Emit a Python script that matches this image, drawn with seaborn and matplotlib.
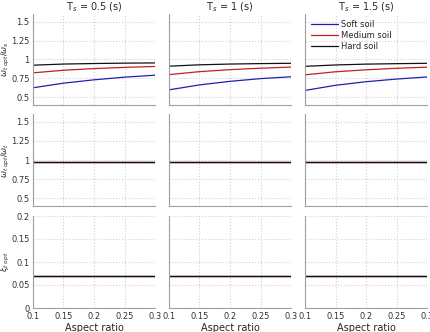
import numpy as np
import pandas as pd
import matplotlib
matplotlib.use("Agg")
import matplotlib.pyplot as plt
import seaborn as sns

# ---- data ----
aspect = [0.10, 0.15, 0.20, 0.25, 0.30]
periods = ["0.5", "1", "1.5"]
soils = ["Soft soil", "Medium soil", "Hard soil"]

# row 1: omega_t_opt / omega_s
r1_soft = {"0.5": [0.627, 0.688, 0.732, 0.767, 0.793],
           "1":   [0.600, 0.665, 0.712, 0.748, 0.772],
           "1.5": [0.592, 0.660, 0.707, 0.742, 0.770]}
r1_med = {"0.5": [0.824, 0.858, 0.880, 0.896, 0.908],
          "1":   [0.800, 0.840, 0.866, 0.885, 0.900],
          "1.5": [0.798, 0.838, 0.864, 0.884, 0.899]}
r1_hard = {"0.5": [0.925, 0.940, 0.947, 0.952, 0.955],
           "1":   [0.912, 0.930, 0.940, 0.946, 0.950],
           "1.5": [0.910, 0.928, 0.939, 0.945, 0.950]}
# row 2: omega_t_opt / omega_t
r2_soft = [0.980, 0.980, 0.980, 0.980, 0.980]
r2_med = [0.979, 0.979, 0.979, 0.979, 0.979]
r2_hard = [0.978, 0.978, 0.978, 0.978, 0.978]
# row 3: xi_t_opt
r3_soft = [0.0705, 0.0705, 0.0705, 0.0705, 0.0705]
r3_med = [0.0700, 0.0700, 0.0700, 0.0700, 0.0700]
r3_hard = [0.0700, 0.0700, 0.0700, 0.0700, 0.0700]

rows = []
for p in periods:
    for soil, r1, r2, r3 in [("Soft soil", r1_soft[p], r2_soft, r3_soft),
                             ("Medium soil", r1_med[p], r2_med, r3_med),
                             ("Hard soil", r1_hard[p], r2_hard, r3_hard)]:
        for i, a in enumerate(aspect):
            rows.append(dict(Ts=p, soil=soil, aspect=a, r1=r1[i], r2=r2[i], r3=r3[i]))
df = pd.DataFrame(rows)

sns.set_theme(style="white")
plt.rcParams['font.family'] = ['DejaVu Sans']
plt.rcParams['mathtext.fontset'] = 'dejavusans'
palette = {"Soft soil": "#2020b0", "Medium soil": "#c02020", "Hard soil": "#101010"}

W, H = 431, 332
fig = plt.figure(figsize=(W / 100, H / 100), dpi=100)
lefts = [33, 169, 305]
width = 122
row_tb = [(14, 105), (114, 206), (216, 308)]
ycols = ["r1", "r2", "r3"]
ylabels = [r"$\omega_{t\ opt}/\omega_s$", r"$\omega_{t\ opt}/\omega_t$", r"$\xi_{t\ opt}$"]

for r in range(3):
    t, b = row_tb[r]
    for c in range(3):
        ax = fig.add_axes([lefts[c] / W, 1 - b / H, width / W, (b - t) / H])
        sub = df[df.Ts == periods[c]]
        sns.lineplot(data=sub, x="aspect", y=ycols[r], hue="soil", hue_order=soils,
                     palette=palette, ax=ax, linewidth=0.9,
                     legend=(r == 0 and c == 2))
        ax.set_xlim(0.1, 0.3)
        ax.set_xticks([0.1, 0.15, 0.2, 0.25, 0.3])
        if r < 2:
            ax.set_ylim(0.4, 1.6)
            ax.set_yticks([0.5, 0.75, 1.0, 1.25, 1.5])
            ax.set_yticklabels(["0.5", "0.75", "1", "1.25", "1.5"])
        else:
            ax.set_ylim(0, 0.2)
            ax.set_yticks([0, 0.05, 0.1, 0.15, 0.2])
            ax.set_yticklabels(["0", "0.05", "0.1", "0.15", "0.2"])
        ax.grid(True, color="#d0d0d0", linestyle=":", linewidth=0.8)
        for s in ["top", "right"]:
            ax.spines[s].set_visible(False)
        for s in ["left", "bottom"]:
            ax.spines[s].set_color("#a0a0a0")
            ax.spines[s].set_linewidth(0.8)
        ax.tick_params(axis="y", labelsize=6, length=0, pad=2.5, colors="#333333")
        ax.tick_params(axis="x", labelsize=6, length=0, pad=3, colors="#333333")
        if c > 0:
            ax.set_yticklabels([])
        if r < 2:
            ax.set_xticklabels([])
            ax.set_xlabel("")
        else:
            ax.set_xticklabels(["0.1", "0.15", "0.2", "0.25", "0.3"])
            ax.set_xlabel("Aspect ratio", fontsize=7, labelpad=1)
        if c == 0:
            ax.set_ylabel(ylabels[r], fontsize=6)
            ax.yaxis.set_label_coords((12.5 - 33) / width, 0.5)
        else:
            ax.set_ylabel("")
        if r == 0:
            ax.set_title(r"T$_s$ = " + periods[c] + " (s)", fontsize=7, pad=0.5)
        if r == 0 and c == 2:
            leg = ax.legend(loc="upper left", fontsize=6, frameon=False,
                            handlelength=3.2, handletextpad=0.4, labelspacing=0.25,
                            borderaxespad=0.3)

fig.savefig("out.png", dpi=100)
